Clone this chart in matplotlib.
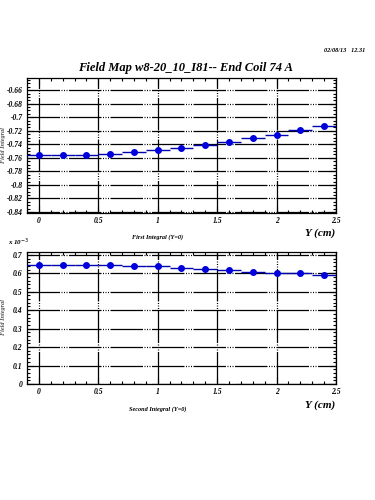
import matplotlib
matplotlib.use("Agg")
import matplotlib.pyplot as plt
from matplotlib.ticker import MultipleLocator, FuncFormatter

# data
y_pos = [0.0, 0.2, 0.4, 0.6, 0.8, 1.0, 1.2, 1.4, 1.6, 1.8, 2.0, 2.2, 2.4]
first_int = [-0.756, -0.756, -0.7555, -0.7538, -0.752, -0.749, -0.745,
             -0.7416, -0.737, -0.7313, -0.7258, -0.7194, -0.713]
second_int = [0.645, 0.647, 0.645, 0.644, 0.642, 0.637, 0.630,
              0.623, 0.618, 0.607, 0.602, 0.602, 0.591]
half_step = 0.1

title = "Field Map w8-20_10_I81-- End Coil 74 A"
stamp = "02/08/13   12.31"

plt.rcParams['font.family'] = ['Liberation Serif', 'DejaVu Serif']
grid_dash = (0, (26, 1.2, 0.8, 1.2, 0.8, 1.2, 0.8, 1.2))

fig = plt.figure(figsize=(3.75, 5), dpi=100)
ax1 = fig.add_axes([0.072, 0.574, 0.824, 0.270])
ax2 = fig.add_axes([0.072, 0.232, 0.824, 0.265])


def fmt(v, pos):
    s = ("%.2f" % v).rstrip('0').rstrip('.')
    if s in ("-0", ""):
        s = "0"
    return s


def style(ax, major_y, minor_y):
    ax.set_xlim(-0.1, 2.5)
    ax.xaxis.set_major_locator(MultipleLocator(0.5))
    ax.xaxis.set_minor_locator(MultipleLocator(0.1))
    ax.yaxis.set_major_locator(MultipleLocator(major_y))
    ax.yaxis.set_minor_locator(MultipleLocator(minor_y))
    ax.xaxis.set_major_formatter(FuncFormatter(fmt))
    ax.yaxis.set_major_formatter(FuncFormatter(fmt))
    ax.tick_params(which='both', direction='in', top=True, right=True,
                   width=0.8, pad=3)
    ax.tick_params(which='major', length=5)
    ax.tick_params(which='minor', length=2.5)
    for lab in ax.get_xticklabels() + ax.get_yticklabels():
        lab.set_fontsize(5.5)
        lab.set_fontweight('bold')
        lab.set_fontstyle('italic')
    ax.grid(True, which='major', color='black', linewidth=0.9,
            linestyle=grid_dash)
    for sp in ax.spines.values():
        sp.set_linewidth(0.9)


ax1.errorbar(y_pos, first_int, xerr=half_step, fmt='o', color='#0000b0',
             mfc='#0000dd', mec='#0000dd', ms=4, elinewidth=1, capsize=0,
             zorder=3)
ax1.set_ylim(-0.8415, -0.642)
style(ax1, 0.02, 0.005)

ax2.errorbar(y_pos, second_int, xerr=half_step, fmt='o', color='#0000b0',
             mfc='#0000dd', mec='#0000dd', ms=4, elinewidth=1, capsize=0,
             zorder=3)
ax2.set_ylim(0, 0.718)
style(ax2, 0.1, 0.02)

fig.text(0.495, 0.864, title, ha='center', va='center', fontsize=9,
         fontweight='bold', fontstyle='italic')
fig.text(0.975, 0.9, stamp, ha='right', va='center', fontsize=4.5,
         fontweight='bold', fontstyle='italic')

fig.text(0.42, 0.525, "First Integral (Y=0)", ha='center', va='center',
         fontsize=4.5, fontweight='bold', fontstyle='italic')
fig.text(0.42, 0.182, "Second Integral (Y=0)", ha='center', va='center',
         fontsize=4.5, fontweight='bold', fontstyle='italic')
for yy in (0.533, 0.19):
    fig.text(0.893, yy, "Y (cm)", ha='right', va='center', fontsize=8,
             fontweight='bold', fontstyle='italic')
fig.text(0.02, 0.516, r"x 10$^{-3}$", ha='left', va='center', fontsize=5,
         fontweight='bold', fontstyle='italic')

# y axis titles, squeezed against the left edge
for yy in (0.71, 0.365):
    fig.text(0.002, yy, "Field Integral", ha='left', va='center',
             rotation=90, fontsize=4.5, fontweight='bold', fontstyle='italic',
             color='#555555')

fig.savefig("out.png", dpi=100)
